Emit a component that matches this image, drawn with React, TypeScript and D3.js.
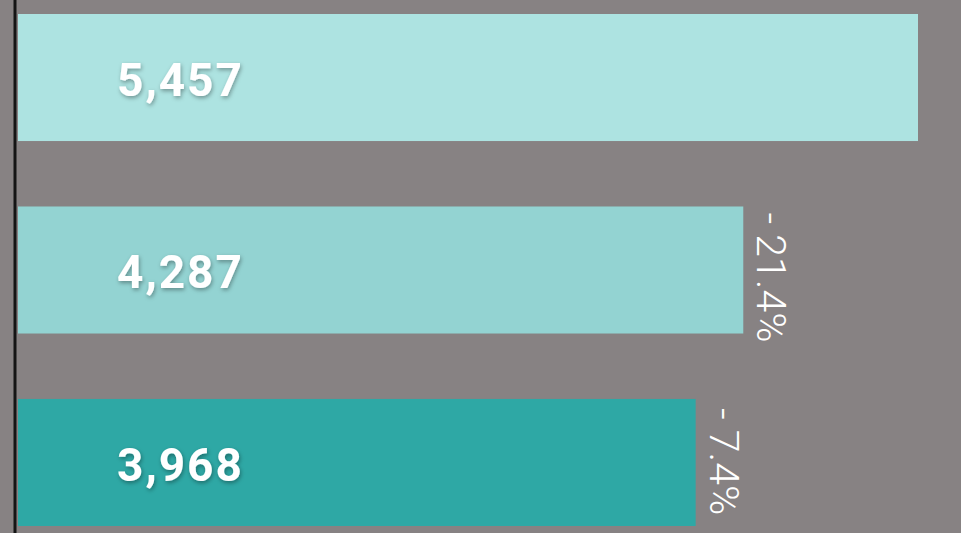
import React from "react";
import * as d3 from "d3";

const categories = ["A", "B", "C"];
const values = [5457, 4287, 3968];
const changes = ["", "- 21.4%", "- 7.4%"];
const colors = ["#ade3e1", "#93d3d2", "#2ea8a5"];

const W = 961;
const H = 533;

export default function App() {
  const x = d3.scaleLinear().domain([-570, 5457]).range([18, 918]);
  const y = d3.scaleBand<string>().domain(categories).range([14, 526]).paddingInner(0.34).paddingOuter(0);
  const fmt = d3.format(",");
  return (
    <svg width={W} height={H} style={{ position: "absolute", left: 0, top: 0 }}>
      <defs>
        <filter id="sh" x="-20%" y="-40%" width="140%" height="180%">
          <feDropShadow dx="1" dy="2" stdDeviation="2" floodColor="#000" floodOpacity="0.35" />
        </filter>
      </defs>
      <rect x={0} y={0} width={W} height={H} fill="#878283" />
      {categories.map((c, i) => {
        const y0 = y(c)!;
        const bw = y.bandwidth();
        const x0 = x(-570);
        const x1 = x(values[i]);
        return (
          <g key={c}>
            <rect x={x0} y={y0} width={x1 - x0} height={bw} fill={colors[i]} />
            <text
              x={x0 + 99}
              y={y0 + bw / 2 + 2}
              dy="0.35em"
              fill="#fff"
              fontFamily="Roboto, 'DejaVu Sans', sans-serif"
              fontWeight={700}
              fontSize={46}
              letterSpacing={2}
              filter="url(#sh)"
            >
              {fmt(values[i])}
            </text>
            {changes[i] && (
              <text
                transform={`translate(${x1 + 14},${y0 + 3 + i * 3}) rotate(90)`}
                fill="#fff"
                fontFamily="Roboto, 'DejaVu Sans', sans-serif"
                fontWeight={300}
                fontSize={41}
              >
                {changes[i]}
              </text>
            )}
          </g>
        );
      })}
      <line x1={15} x2={15} y1={0} y2={H} stroke="#141414" strokeWidth={3} />
    </svg>
  );
}
